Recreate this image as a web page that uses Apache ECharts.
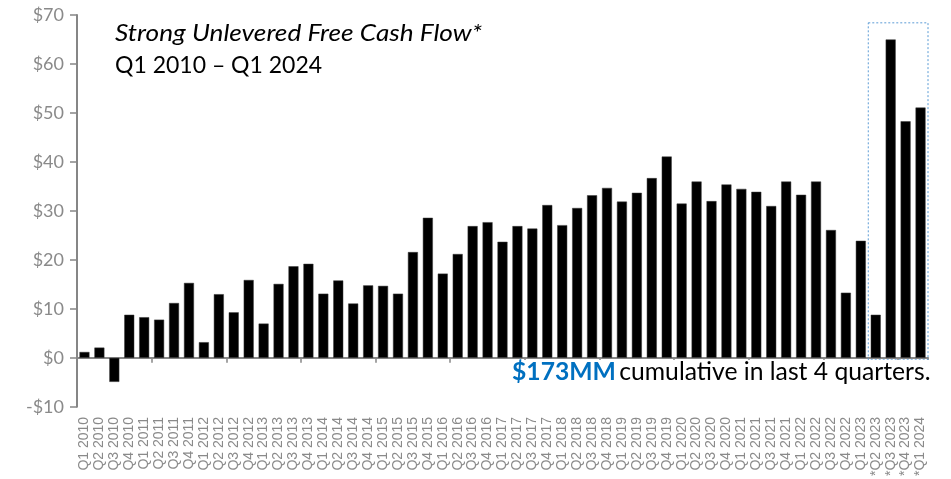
<!DOCTYPE html>
<html>
<head>
<meta charset="utf-8">
<script src="https://cdn.jsdelivr.net/npm/echarts@6/dist/echarts.min.js"></script>
<style>
  html, body { margin: 0; padding: 0; background: #fff; }
  #chart { width: 951px; height: 479px; }
</style>
</head>
<body>
<div id="chart"></div>
<script>
// Quarter categories (last four marked with *)
const categories = [
  'Q1 2010','Q2 2010','Q3 2010','Q4 2010',
  'Q1 2011','Q2 2011','Q3 2011','Q4 2011',
  'Q1 2012','Q2 2012','Q3 2012','Q4 2012',
  'Q1 2013','Q2 2013','Q3 2013','Q4 2013',
  'Q1 2014','Q2 2014','Q3 2014','Q4 2014',
  'Q1 2015','Q2 2015','Q3 2015','Q4 2015',
  'Q1 2016','Q2 2016','Q3 2016','Q4 2016',
  'Q1 2017','Q2 2017','Q3 2017','Q4 2017',
  'Q1 2018','Q2 2018','Q3 2018','Q4 2018',
  'Q1 2019','Q2 2019','Q3 2019','Q4 2019',
  'Q1 2020','Q2 2020','Q3 2020','Q4 2020',
  'Q1 2021','Q2 2021','Q3 2021','Q4 2021',
  'Q1 2022','Q2 2022','Q3 2022','Q4 2022',
  'Q1 2023','*Q2 2023','*Q3 2023','*Q4 2023',
  '*Q1 2024'
];

// Unlevered free cash flow ($MM) per quarter
const fcfValues = [
  1.2, 2.1, -4.9, 8.8,
  8.3, 7.8, 11.2, 15.3,
  3.2, 13.0, 9.3, 15.9,
  7.0, 15.1, 18.7, 19.2,
  13.1, 15.8, 11.1, 14.8,
  14.7, 13.1, 21.6, 28.6,
  17.2, 21.2, 26.9, 27.7,
  23.7, 26.9, 26.4, 31.2,
  27.1, 30.6, 33.2, 34.7,
  31.9, 33.7, 36.7, 41.1,
  31.5, 36.0, 32.0, 35.4,
  34.5, 33.9, 31.0, 36.0,
  33.3, 36.0, 26.1, 13.3,
  23.9, 8.8, 65.0, 48.3,
  51.1
];

// Y axis tick values
const yTicks = [-10, 0, 10, 20, 30, 40, 50, 60, 70];

// Highlight box: first highlighted quarter, count, top value
const highlightStart = 53;
const highlightCount = 4;
const highlightTop = 68.4;

const titleLine1 = 'Strong Unlevered Free Cash Flow*';
const titleLine2 = 'Q1 2010 \u2013 Q1 2024';
const noteBold = '$173MM';
const noteRest = 'cumulative in last 4 quarters.';

const axisGray = '#868686';
const labelGray = '#8a8a8a';

const chart = echarts.init(document.getElementById('chart'), null, { renderer: 'canvas' });

const option = {
  animation: false,
  backgroundColor: '#ffffff',
  grid: { left: 77, right: 23, top: 15, bottom: 71, containLabel: false },
  xAxis: [
    {
      type: 'category',
      data: categories,
      position: 'bottom',
      axisLine: { show: false, onZero: false },
      axisTick: { show: false },
      axisLabel: {
        interval: 0,
        rotate: 90,
        margin: 10,
        color: labelGray,
        fontFamily: 'Liberation Sans, Arial, sans-serif',
        fontSize: 14
      },
      splitLine: { show: false }
    },
    {
      type: 'category',
      data: categories,
      position: 'bottom',
      axisLine: { show: true, onZero: true, lineStyle: { color: axisGray, width: 2 } },
      axisTick: { show: true, length: 5, lineStyle: { color: axisGray, width: 1.5 } },
      axisLabel: { show: false },
      splitLine: { show: false }
    }
  ],
  yAxis: {
    type: 'value',
    min: yTicks[0],
    max: yTicks[yTicks.length - 1],
    interval: 10,
    axisLine: { show: true, lineStyle: { color: axisGray, width: 2 } },
    axisTick: { show: true, length: 7, lineStyle: { color: axisGray, width: 1.5 } },
    axisLabel: {
      margin: 13,
      color: labelGray,
      fontFamily: 'Lato, sans-serif',
      fontSize: 18,
      formatter: function (v) { return v < 0 ? '-$' + Math.abs(v) : '$' + v; }
    },
    splitLine: { show: false }
  },
  series: [
    {
      type: 'bar',
      xAxisIndex: 0,
      data: fcfValues,
      barCategoryGap: '33%',
      itemStyle: { color: '#000000', borderColor: '#3a3a3a', borderWidth: 0.5 }
    }
  ]
};

chart.setOption(option);

// Build annotations from the library's scales
const c0 = chart.convertToPixel({ xAxisIndex: 0 }, highlightStart);
const c1 = chart.convertToPixel({ xAxisIndex: 0 }, highlightStart + 1);
const band = c1 - c0;
const boxX0 = c0 - band / 2;
const boxX1 = c0 + band * (highlightCount - 0.5);
const boxY0 = chart.convertToPixel({ yAxisIndex: 0 }, highlightTop);
const boxY1 = chart.convertToPixel({ yAxisIndex: 0 }, 0) + 2;

chart.setOption({
  graphic: [
    {
      type: 'rect',
      z: 100,
      shape: { x: boxX0, y: boxY0, width: boxX1 - boxX0, height: boxY1 - boxY0 },
      style: { fill: 'none', stroke: '#5b9bd5', lineWidth: 1, lineDash: [2, 2] }
    },
    {
      type: 'text',
      x: 115,
      y: 22,
      scaleX: 1.14,
      z: 100,
      style: {
        text: titleLine1,
        fill: '#000',
        font: 'italic 23px Lato, sans-serif',
        verticalAlign: 'top'
      }
    },
    {
      type: 'text',
      x: 115,
      y: 54,
      z: 100,
      style: {
        text: titleLine2,
        fill: '#000',
        font: '23px Lato, sans-serif',
        verticalAlign: 'top'
      }
    },
    {
      type: 'text',
      x: 512,
      y: 360,
      z: 100,
      style: {
        text: '{b|' + noteBold + '} {n|' + noteRest + '}',
        backgroundColor: '#ffffff',
        verticalAlign: 'top',
        padding: [0, 2, 0, 0],
        rich: {
          b: { fill: '#0070c0', font: 'bold 24.7px Lato, sans-serif', backgroundColor: '#fff' },
          n: { fill: '#000', font: '24.7px Lato, sans-serif', backgroundColor: '#fff' }
        }
      }
    }
  ]
});
</script>
</body>
</html>
